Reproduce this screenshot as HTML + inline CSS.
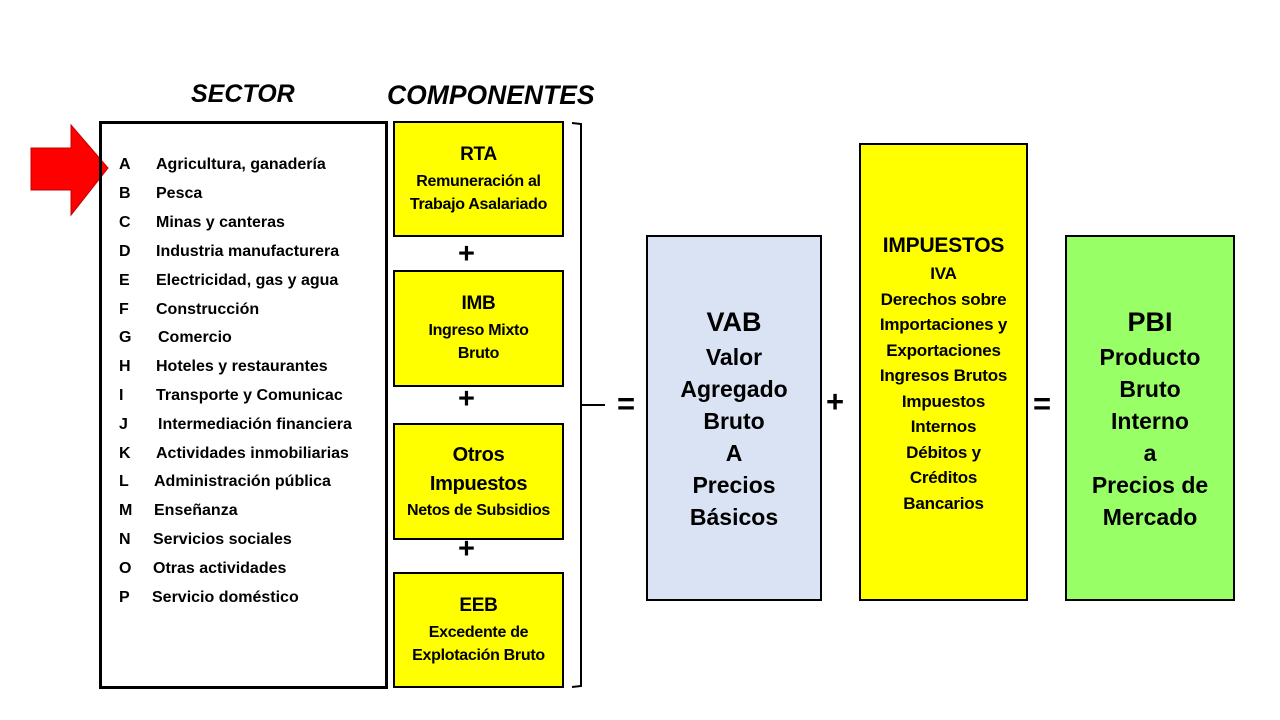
<!DOCTYPE html>
<html><head><meta charset="utf-8"><style>
body{margin:0;width:1280px;height:720px;background:#fff;position:relative;overflow:hidden;font-family:"Liberation Sans",Arial,sans-serif;font-weight:bold;color:#000}
.a{position:absolute}
.box{position:absolute;border:2px solid #000;box-sizing:border-box;display:flex;flex-direction:column;justify-content:center;align-items:center;text-align:center}
.y{background:#ffff00}
.h{font-size:26px;font-style:italic;top:80px}
.row{position:absolute;font-size:16px;left:119px}
.row span{position:absolute;left:37px;white-space:nowrap}
.cb{font-size:16px;line-height:23px;letter-spacing:-0.3px}
.big{font-size:23px;line-height:32px}
.op{position:absolute;font-size:31px}
</style></head><body>
<div class="a h" style="left:191px;font-size:25px">SECTOR</div>
<div class="a h" style="left:387px;font-size:26.5px">COMPONENTES</div>
<svg class="a" style="left:0;top:0" width="1280" height="720">
<polygon points="31,148 71,148 71,125 108,168 71,215 71,190 31,190" fill="#ff0000" stroke="#c00000" stroke-width="1"/>
<path d="M572,123 L581,124 L581,686 L572,687 M581,405 L605,405" fill="none" stroke="#000" stroke-width="2"/>
</svg>
<div class="box" style="left:99px;top:121px;width:289px;height:568px;border-width:3px"></div>
<div class="row" style="top:156px">A<span>Agricultura, ganadería</span></div>
<div class="row" style="top:185px">B<span>Pesca</span></div>
<div class="row" style="top:214px">C<span>Minas y canteras</span></div>
<div class="row" style="top:243px">D<span>Industria manufacturera</span></div>
<div class="row" style="top:272px">E<span>Electricidad, gas y agua</span></div>
<div class="row" style="top:301px">F<span>Construcción</span></div>
<div class="row" style="top:329px">G<span style="left:39px">Comercio</span></div>
<div class="row" style="top:358px">H<span>Hoteles y restaurantes</span></div>
<div class="row" style="top:387px">I<span>Transporte y Comunicac</span></div>
<div class="row" style="top:416px">J<span style="left:39px">Intermediación financiera</span></div>
<div class="row" style="top:445px">K<span>Actividades inmobiliarias</span></div>
<div class="row" style="top:473px">L<span style="left:35px">Administración pública</span></div>
<div class="row" style="top:502px">M<span style="left:35px">Enseñanza</span></div>
<div class="row" style="top:531px">N<span style="left:34px">Servicios sociales</span></div>
<div class="row" style="top:560px">O<span style="left:34px">Otras actividades</span></div>
<div class="row" style="top:589px">P<span style="left:33px">Servicio doméstico</span></div>

<div class="box y cb" style="left:393px;top:121px;width:171px;height:116px"><div style="font-size:19px;margin-bottom:4px">RTA</div>Remuneración al<br>Trabajo Asalariado</div>
<div class="box y cb" style="left:393px;top:270px;width:171px;height:117px"><div style="font-size:19px;margin-bottom:4px">IMB</div>Ingreso Mixto<br>Bruto</div>
<div class="box y cb" style="left:393px;top:423px;width:171px;height:117px"><div style="font-size:20px;line-height:29px">Otros<br>Impuestos</div>Netos de Subsidios</div>
<div class="box y cb" style="left:393px;top:572px;width:171px;height:116px"><div style="font-size:19px;margin-bottom:4px">EEB</div>Excedente de<br>Explotación Bruto</div>
<div class="op" style="left:458px;top:238px;font-size:29px">+</div>
<div class="op" style="left:458px;top:383px;font-size:29px">+</div>
<div class="op" style="left:458px;top:533px;font-size:29px">+</div>
<div class="op" style="left:617px;top:386px">=</div>
<div class="op" style="left:826px;top:384px">+</div>
<div class="op" style="left:1033px;top:386px">=</div>

<div class="box big" style="left:646px;top:235px;width:176px;height:366px;background:#dae3f3"><div style="font-size:27px;line-height:38px">VAB</div>Valor<br>Agregado<br>Bruto<br>A<br>Precios<br>Básicos</div>
<div class="box y" style="left:859px;top:143px;width:169px;height:458px;font-size:17px;line-height:25.5px;justify-content:flex-start;padding-top:86px;letter-spacing:-0.2px"><div style="font-size:21px;line-height:30px">IMPUESTOS</div>IVA<br>Derechos sobre<br>Importaciones y<br>Exportaciones<br>Ingresos Brutos<br>Impuestos<br>Internos<br>Débitos y<br>Créditos<br>Bancarios</div>
<div class="box big" style="left:1065px;top:235px;width:170px;height:366px;background:#99ff66"><div style="font-size:27px;line-height:38px">PBI</div>Producto<br>Bruto<br>Interno<br>a<br>Precios de<br>Mercado</div>
</body></html>
